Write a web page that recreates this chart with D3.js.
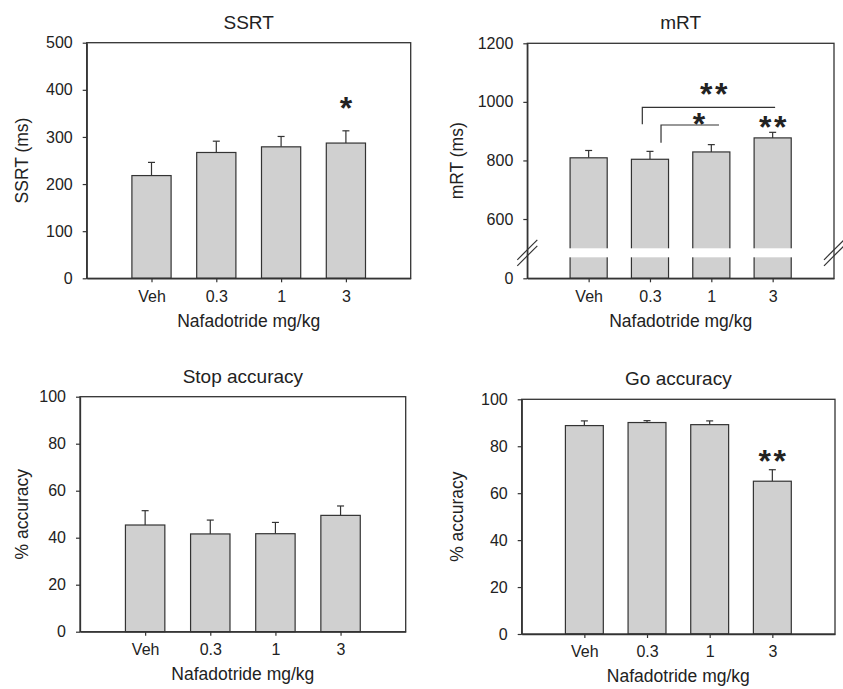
<!DOCTYPE html>
<html>
<head>
<meta charset="utf-8">
<script src="https://cdn.jsdelivr.net/npm/d3@7"></script>
<style>
  html, body { margin: 0; padding: 0; background: #fff; }
  svg { display: block; }
  text { font-family: "Liberation Sans", Arial, Helvetica, sans-serif; fill: #222; }
</style>
</head>
<body>
<svg id="chart" width="843" height="689"></svg>
<script>
// ---------- data ----------
const categories = ["Veh", "0.3", "1", "3"];
const xAxisTitle = "Nafadotride mg/kg";

const ssrtMean = [218, 267, 279, 287];
const ssrtSem  = [28, 24, 22, 26];
const ssrtTicks = [0, 100, 200, 300, 400, 500];

const mrtMean = [809, 804, 829, 877];
const mrtSem  = [25, 27, 25, 19];
const mrtTicks = [0, 600, 800, 1000, 1200];

const stopMean = [45.4, 41.6, 41.7, 49.5];
const stopSem  = [6.1, 5.9, 4.8, 4.0];

const goMean = [88.8, 90.1, 89.2, 65.1];
const goSem  = [2.0, 0.8, 1.6, 4.9];

const accTicks = [0, 20, 40, 60, 80, 100];

// significance marks: x in category slots (1..4), y in data units
const ssrtStars = [{x: 4, y: 376, t: "*"}];
const mrtStars = [{x: 3.04, y: 1050, t: "**"}, {x: 2.8, y: 949, t: "*"}, {x: 4, y: 938, t: "**"}];
const mrtBrackets = [
  {x1: 1.875, x2: 4.04, y: 981, yDrop: 924},
  {x1: 2.18, x2: 3.125, y: 921, yDrop: 860}
];
const goStars = [{x: 4, y: 76.6, t: "**"}];

// ---------- layout ----------
const panels = [
  {title: "SSRT", ylab: "SSRT (ms)", mean: ssrtMean, sem: ssrtSem, ticks: ssrtTicks,
   domain: [0, 500], box: {l: 86.7, r: 410.7, t: 42.7, b: 278.3}, ylabOff: 58.4,
   stars: ssrtStars, brackets: []},
  {title: "mRT", ylab: "mRT (ms)", mean: mrtMean, sem: mrtSem, ticks: mrtTicks,
   domain: [0, 500, 1200], brk: true, box: {l: 527.3, r: 834, t: 43.3, b: 278.3}, ylabOff: 64.6,
   stars: mrtStars, brackets: mrtBrackets},
  {title: "Stop accuracy", ylab: "% accuracy", mean: stopMean, sem: stopSem, ticks: accTicks,
   domain: [0, 100], box: {l: 80, r: 405.7, t: 396.7, b: 631.7}, ylabOff: 51.7,
   stars: [], brackets: []},
  {title: "Go accuracy", ylab: "% accuracy", mean: goMean, sem: goSem, ticks: accTicks,
   domain: [0, 100], box: {l: 521.7, r: 835, t: 399.3, b: 634}, ylabOff: 59,
   stars: goStars, brackets: []}
];

const lineColor = "#333";
const barFill = "#d0d0d0";
const svg = d3.select("#chart");

panels.forEach(p => {
  const w = p.box.r - p.box.l, h = p.box.b - p.box.t;
  const g = svg.append("g").attr("transform", `translate(${p.box.l},${p.box.t})`);

  const x = d3.scaleLinear().domain([0, categories.length + 1]).range([0, w]);
  const step = x(1) - x(0);
  const bw = step * 0.605;

  let y;
  if (p.brk) {
    y = d3.scaleLinear().domain(p.domain).range([h, h - 30, 0]);
  } else {
    y = d3.scaleLinear().domain(p.domain).range([h, 0]);
  }

  const data = categories.map((c, i) => ({c, i: i + 1, m: p.mean[i], s: p.sem[i]}));

  // error bars (upper only)
  const eb = g.append("g");
  data.forEach(d => {
    eb.append("line").attr("x1", x(d.i)).attr("x2", x(d.i))
      .attr("y1", y(d.m)).attr("y2", y(d.m + d.s))
      .attr("stroke", lineColor).attr("stroke-width", 1.2);
    eb.append("line").attr("x1", x(d.i) - 3.5).attr("x2", x(d.i) + 3.5)
      .attr("y1", y(d.m + d.s)).attr("y2", y(d.m + d.s))
      .attr("stroke", lineColor).attr("stroke-width", 1.2);
  });

  // bars
  g.append("g").selectAll("rect").data(data).join("rect")
    .attr("x", d => x(d.i) - bw / 2)
    .attr("width", bw)
    .attr("y", d => y(d.m))
    .attr("height", d => h - y(d.m))
    .attr("fill", barFill)
    .attr("stroke", lineColor)
    .attr("stroke-width", 1.2);

  // axis break
  if (p.brk) {
    const yb = y(500);
    g.append("rect").attr("x", 1).attr("width", w - 2)
      .attr("y", yb).attr("height", 9).attr("fill", "#fff");
    [0, w].forEach(ax => {
      const cy = yb + 4.5;
      [-3, 3].forEach(off => {
        g.append("line")
          .attr("x1", ax - 10).attr("y1", cy + off + 10)
          .attr("x2", ax + 10).attr("y2", cy + off - 10)
          .attr("stroke", lineColor).attr("stroke-width", 1.2);
      });
    });
  }

  // frame
  g.append("rect").attr("x", 0).attr("y", 0).attr("width", w).attr("height", h)
    .attr("fill", "none").attr("stroke", lineColor).attr("stroke-width", 1.3);

  // axes
  const yAxis = g.append("g")
    .call(d3.axisLeft(y).tickValues(p.ticks).tickSize(4).tickPadding(10).tickSizeOuter(0).tickFormat(d3.format("d")));
  const xAxis = g.append("g").attr("transform", `translate(0,${h})`)
    .call(d3.axisBottom(x).tickValues(data.map(d => d.i)).tickSize(4).tickPadding(8).tickSizeOuter(0)
      .tickFormat(v => categories[v - 1]));
  [yAxis, xAxis].forEach(a => {
    a.attr("font-size", null).attr("font-family", null);
    a.select(".domain").attr("stroke", lineColor).attr("stroke-width", 1.3);
    a.selectAll(".tick line").attr("stroke", lineColor).attr("stroke-width", 1.2);
    a.selectAll(".tick text").style("font-size", "16px").attr("fill", "#222")
      .style("font-family", "'Liberation Sans', Arial, sans-serif");
  });

  // title
  g.append("text").attr("x", w / 2).attr("y", -14).attr("text-anchor", "middle")
    .style("font-size", "19px").text(p.title);
  // x axis title
  g.append("text").attr("x", w / 2).attr("y", h + 48.5).attr("text-anchor", "middle")
    .style("font-size", "17.5px").text(xAxisTitle);
  // y axis title
  g.append("text").attr("transform", `translate(${-p.ylabOff},${h / 2}) rotate(-90)`)
    .attr("text-anchor", "middle").style("font-size", "17.5px").text(p.ylab);

  // brackets
  p.brackets.forEach(b => {
    g.append("path")
      .attr("d", `M${x(b.x1)},${y(b.yDrop)}V${y(b.y)}H${x(b.x2)}`)
      .attr("fill", "none").attr("stroke", lineColor).attr("stroke-width", 1.2);
  });
  // stars
  p.stars.forEach(s => {
    const ls = s.t.length > 1 ? 2.5 : 0;
    g.append("text").attr("x", x(s.x)).attr("dx", ls / 2).attr("y", y(s.y) + 18)
      .attr("text-anchor", "middle").style("font-size", "32px").style("font-weight", "bold")
      .attr("fill", "#222").attr("letter-spacing", ls).text(s.t);
  });
});
</script>
</body>
</html>
